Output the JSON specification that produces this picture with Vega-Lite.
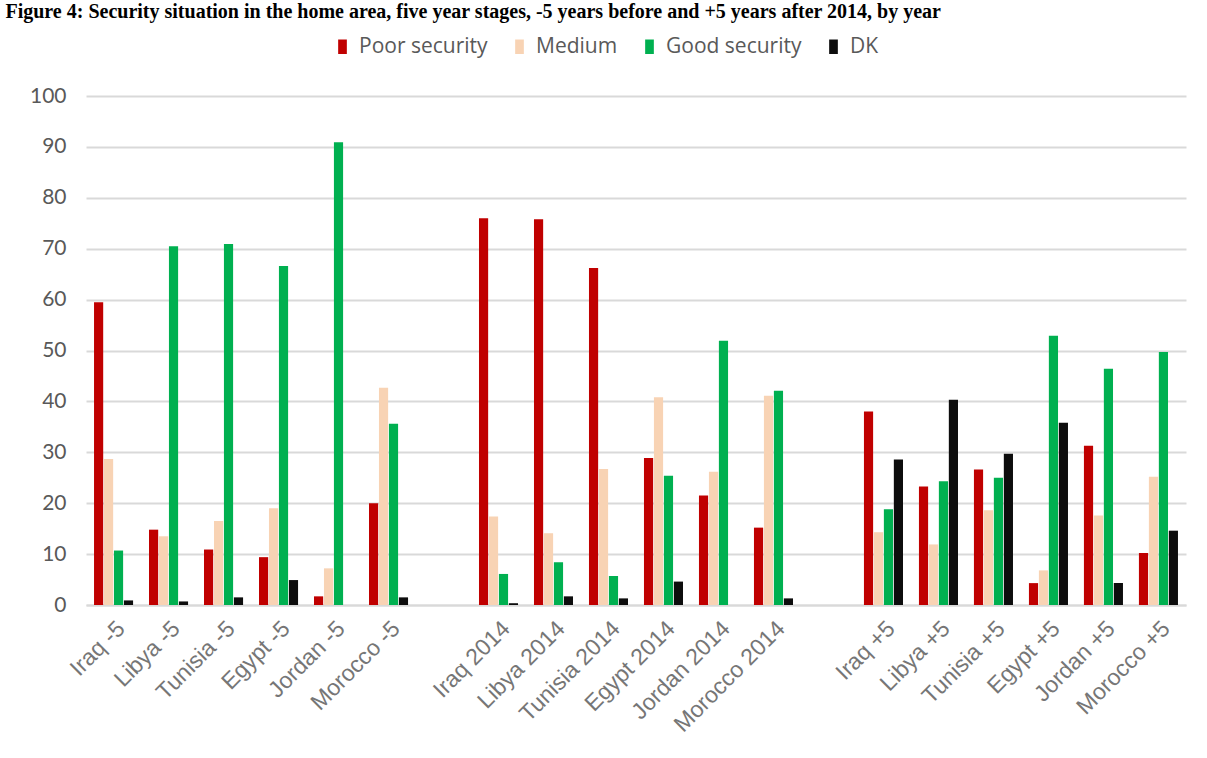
{
  "$schema": "https://vega.github.io/schema/vega-lite/v6.json",
  "width": 1100,
  "height": 509,
  "autosize": {"type": "none"},
  "padding": {"left": 86, "top": 96, "right": 21, "bottom": 153},
  "background": "white",
  "title": {
    "text": "Figure 4: Security situation in the home area, five year stages, -5 years before and +5 years after 2014, by year",
    "anchor": "start",
    "orient": "top",
    "offset": 14,
    "dx": -24,
    "font": "Liberation Serif",
    "fontSize": 20,
    "fontWeight": "bold",
    "color": "black"
  },
  "config": {
    "view": {"stroke": null},
    "font": "Liberation Sans"
  },
  "data": {
    "values": [
      {"cat": "Iraq -5", "series": "Poor security", "value": 59.5},
      {"cat": "Iraq -5", "series": "Medium", "value": 28.7},
      {"cat": "Iraq -5", "series": "Good security", "value": 10.7},
      {"cat": "Iraq -5", "series": "DK", "value": 0.9},
      {"cat": "Libya -5", "series": "Poor security", "value": 14.8},
      {"cat": "Libya -5", "series": "Medium", "value": 13.5},
      {"cat": "Libya -5", "series": "Good security", "value": 70.5},
      {"cat": "Libya -5", "series": "DK", "value": 0.7},
      {"cat": "Tunisia -5", "series": "Poor security", "value": 10.9},
      {"cat": "Tunisia -5", "series": "Medium", "value": 16.5},
      {"cat": "Tunisia -5", "series": "Good security", "value": 70.9},
      {"cat": "Tunisia -5", "series": "DK", "value": 1.5},
      {"cat": "Egypt -5", "series": "Poor security", "value": 9.4},
      {"cat": "Egypt -5", "series": "Medium", "value": 19.0},
      {"cat": "Egypt -5", "series": "Good security", "value": 66.6},
      {"cat": "Egypt -5", "series": "DK", "value": 4.9},
      {"cat": "Jordan -5", "series": "Poor security", "value": 1.7},
      {"cat": "Jordan -5", "series": "Medium", "value": 7.2},
      {"cat": "Jordan -5", "series": "Good security", "value": 90.9},
      {"cat": "Jordan -5", "series": "DK", "value": 0},
      {"cat": "Morocco -5", "series": "Poor security", "value": 20.0},
      {"cat": "Morocco -5", "series": "Medium", "value": 42.7},
      {"cat": "Morocco -5", "series": "Good security", "value": 35.6},
      {"cat": "Morocco -5", "series": "DK", "value": 1.5},
      {"cat": "Iraq 2014", "series": "Poor security", "value": 76.0},
      {"cat": "Iraq 2014", "series": "Medium", "value": 17.4},
      {"cat": "Iraq 2014", "series": "Good security", "value": 6.1},
      {"cat": "Iraq 2014", "series": "DK", "value": 0.35},
      {"cat": "Libya 2014", "series": "Poor security", "value": 75.8},
      {"cat": "Libya 2014", "series": "Medium", "value": 14.1},
      {"cat": "Libya 2014", "series": "Good security", "value": 8.4},
      {"cat": "Libya 2014", "series": "DK", "value": 1.7},
      {"cat": "Tunisia 2014", "series": "Poor security", "value": 66.2},
      {"cat": "Tunisia 2014", "series": "Medium", "value": 26.7},
      {"cat": "Tunisia 2014", "series": "Good security", "value": 5.7},
      {"cat": "Tunisia 2014", "series": "DK", "value": 1.3},
      {"cat": "Egypt 2014", "series": "Poor security", "value": 28.9},
      {"cat": "Egypt 2014", "series": "Medium", "value": 40.8},
      {"cat": "Egypt 2014", "series": "Good security", "value": 25.4},
      {"cat": "Egypt 2014", "series": "DK", "value": 4.6},
      {"cat": "Jordan 2014", "series": "Poor security", "value": 21.5},
      {"cat": "Jordan 2014", "series": "Medium", "value": 26.2},
      {"cat": "Jordan 2014", "series": "Good security", "value": 51.9},
      {"cat": "Jordan 2014", "series": "DK", "value": 0},
      {"cat": "Morocco 2014", "series": "Poor security", "value": 15.2},
      {"cat": "Morocco 2014", "series": "Medium", "value": 41.1},
      {"cat": "Morocco 2014", "series": "Good security", "value": 42.1},
      {"cat": "Morocco 2014", "series": "DK", "value": 1.3},
      {"cat": "Iraq +5", "series": "Poor security", "value": 38.0},
      {"cat": "Iraq +5", "series": "Medium", "value": 14.3},
      {"cat": "Iraq +5", "series": "Good security", "value": 18.8},
      {"cat": "Iraq +5", "series": "DK", "value": 28.6},
      {"cat": "Libya +5", "series": "Poor security", "value": 23.3},
      {"cat": "Libya +5", "series": "Medium", "value": 11.9},
      {"cat": "Libya +5", "series": "Good security", "value": 24.3},
      {"cat": "Libya +5", "series": "DK", "value": 40.3},
      {"cat": "Tunisia +5", "series": "Poor security", "value": 26.6},
      {"cat": "Tunisia +5", "series": "Medium", "value": 18.6},
      {"cat": "Tunisia +5", "series": "Good security", "value": 25.0},
      {"cat": "Tunisia +5", "series": "DK", "value": 29.7},
      {"cat": "Egypt +5", "series": "Poor security", "value": 4.3},
      {"cat": "Egypt +5", "series": "Medium", "value": 6.8},
      {"cat": "Egypt +5", "series": "Good security", "value": 52.9},
      {"cat": "Egypt +5", "series": "DK", "value": 35.8},
      {"cat": "Jordan +5", "series": "Poor security", "value": 31.3},
      {"cat": "Jordan +5", "series": "Medium", "value": 17.6},
      {"cat": "Jordan +5", "series": "Good security", "value": 46.4},
      {"cat": "Jordan +5", "series": "DK", "value": 4.3},
      {"cat": "Morocco +5", "series": "Poor security", "value": 10.2},
      {"cat": "Morocco +5", "series": "Medium", "value": 25.2},
      {"cat": "Morocco +5", "series": "Good security", "value": 49.7},
      {"cat": "Morocco +5", "series": "DK", "value": 14.6}
    ]
  },
  "mark": {"type": "bar"},
  "encoding": {
    "x": {
      "field": "cat",
      "type": "nominal",
      "scale": {
        "domain": ["Iraq -5", "Libya -5", "Tunisia -5", "Egypt -5", "Jordan -5", "Morocco -5", "gap1",
                   "Iraq 2014", "Libya 2014", "Tunisia 2014", "Egypt 2014", "Jordan 2014", "Morocco 2014", "gap2",
                   "Iraq +5", "Libya +5", "Tunisia +5", "Egypt +5", "Jordan +5", "Morocco +5"],
        "paddingInner": 0.29,
        "paddingOuter": 0.146
      },
      "axis": {
        "title": null,
        "labelAngle": -45,
        "labelExpr": "indexof(datum.value, 'gap') >= 0 ? '' : datum.value",
        "labelFont": "Liberation Sans",
        "labelFontSize": 23,
        "labelColor": "#767676",
        "labelPadding": 12,
        "ticks": false,
        "domainColor": "#d9d9d9",
        "domainWidth": 2
      }
    },
    "xOffset": {
      "field": "series",
      "type": "nominal",
      "sort": ["Poor security", "Medium", "Good security", "DK"],
      "scale": {"paddingInner": 0.08}
    },
    "y": {
      "field": "value",
      "type": "quantitative",
      "scale": {"domain": [0, 100], "nice": false},
      "axis": {
        "title": null,
        "values": [0, 10, 20, 30, 40, 50, 60, 70, 80, 90, 100],
        "labelOverlap": false,
        "domain": false,
        "ticks": false,
        "labelFont": "Lato",
        "labelFontSize": 21,
        "labelColor": "#595959",
        "labelPadding": 20,
        "gridColor": "#d9d9d9",
        "gridWidth": 2
      }
    },
    "color": {
      "field": "series",
      "type": "nominal",
      "sort": ["Poor security", "Medium", "Good security", "DK"],
      "scale": {
        "domain": ["Poor security", "Medium", "Good security", "DK"],
        "range": ["#c00000", "#f8d3b4", "#00b050", "#0d0d0d"]
      },
      "legend": {
        "title": null,
        "orient": "none",
        "direction": "horizontal",
        "legendX": 246,
        "legendY": -60,
        "symbolType": "M-0.6,-1H0.6V1H-0.6Z",
        "symbolSize": 210,
        "symbolStrokeWidth": 0,
        "labelFont": "Open Sans",
        "labelFontSize": 21,
        "labelColor": "#595959",
        "labelOffset": 6,
        "columnPadding": 21
      }
    }
  }
}
